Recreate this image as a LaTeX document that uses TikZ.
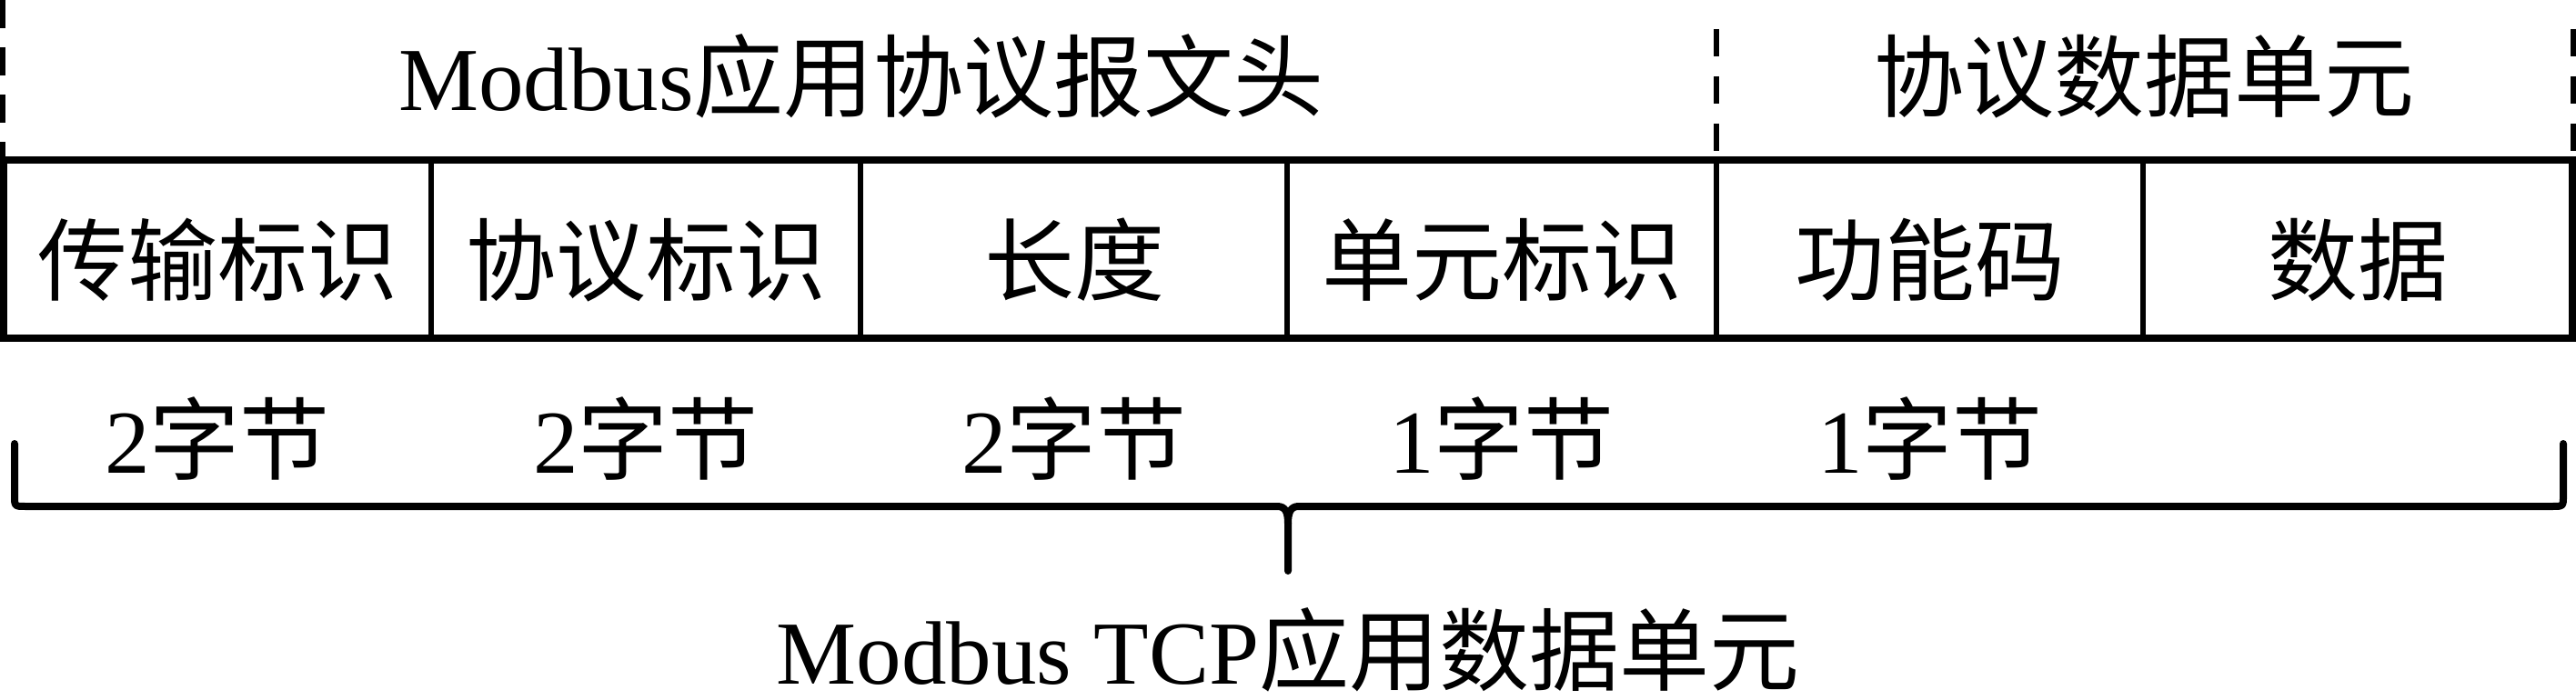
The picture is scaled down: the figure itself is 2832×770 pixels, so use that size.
\documentclass[tikz,border=0pt]{standalone}
\usepackage{fontspec}
\setmainfont{Liberation Serif}
\newfontfamily\cjk{Noto Sans CJK SC}
\begin{document}
\begin{tikzpicture}[x=1pt,y=-1pt,
  txt/.style={anchor=base, inner sep=0pt, font=\fontsize{99}{110}\selectfont},
  frame/.style={line width=7.5pt, line cap=rect},
  divider/.style={line width=6.5pt},
  sep/.style={line width=6pt, dash pattern=on 31pt off 21pt},
  bracel/.style={line width=8pt, line cap=round, line join=round}]
\useasboundingbox (0,0) rectangle (2832,770);

% cell boundaries
\coordinate (c0) at (4,0);
\coordinate (c1) at (474,0);
\coordinate (c2) at (946,0);
\coordinate (c3) at (1415,0);
\coordinate (c4) at (1887,0);
\coordinate (c5) at (2356,0);
\coordinate (c6) at (2828,0);

% dashed separators above the frame
\coordinate (dl0) at (3,0);   \coordinate (dl1) at (3,176);
\coordinate (dm0) at (1887,32); \coordinate (dm1) at (1887,172);
\coordinate (dr0) at (2829,32); \coordinate (dr1) at (2829,172);
\draw[sep] (dl0) -- (dl1);
\draw[sep, dash pattern=on 30pt off 22pt] (dm0) -- (dm1);
\draw[sep, dash pattern=on 30pt off 22pt] (dr0) -- (dr1);

% frame
\coordinate (tl) at (4,176);
\coordinate (br) at (2828,372);
\draw[frame] (tl) rectangle (br);
\foreach \c in {c1,c2,c3,c4,c5}
  \draw[divider] (\c |- tl) -- (\c |- br);

% header texts
\node[txt] (hdr) at (947,122) {Modbus{\cjk 应用协议报文头}};
\node[txt] (pdu) at (2357,122) {{\cjk 协议数据单元}};

% cell texts
\node[txt] (f1) at (239,323)  {{\cjk 传输标识}};
\node[txt] (f2) at (710,323)  {{\cjk 协议标识}};
\node[txt] (f3) at (1181,323) {{\cjk 长度}};
\node[txt] (f4) at (1651,323) {{\cjk 单元标识}};
\node[txt] (f5) at (2122,323) {{\cjk 功能码}};
\node[txt] (f6) at (2592,323) {{\cjk 数据}};

% byte counts
\node[txt] (b1) at (239,520)  {2{\cjk 字节}};
\node[txt] (b2) at (710,520)  {2{\cjk 字节}};
\node[txt] (b3) at (1181,520) {2{\cjk 字节}};
\node[txt] (b4) at (1651,520) {1{\cjk 字节}};
\node[txt] (b5) at (2122,520) {1{\cjk 字节}};

% brace
\coordinate (bl) at (16,488);
\coordinate (br2) at (2818,488);
\coordinate (tip) at (1416,628);
\draw[bracel] (bl) -- (16,545) .. controls (16,557) .. (28,557)
  -- (1404,557) .. controls (1413,557) and (1416,563) .. (1416,576) -- (tip);
\draw[bracel] (br2) -- (2818,545) .. controls (2818,557) .. (2806,557)
  -- (1428,557) .. controls (1419,557) and (1416,563) .. (1416,576);

% bottom label
\node[txt] (adu) at (1416,752) {Modbus TCP{\cjk 应用数据单元}};
\end{tikzpicture}
\end{document}
